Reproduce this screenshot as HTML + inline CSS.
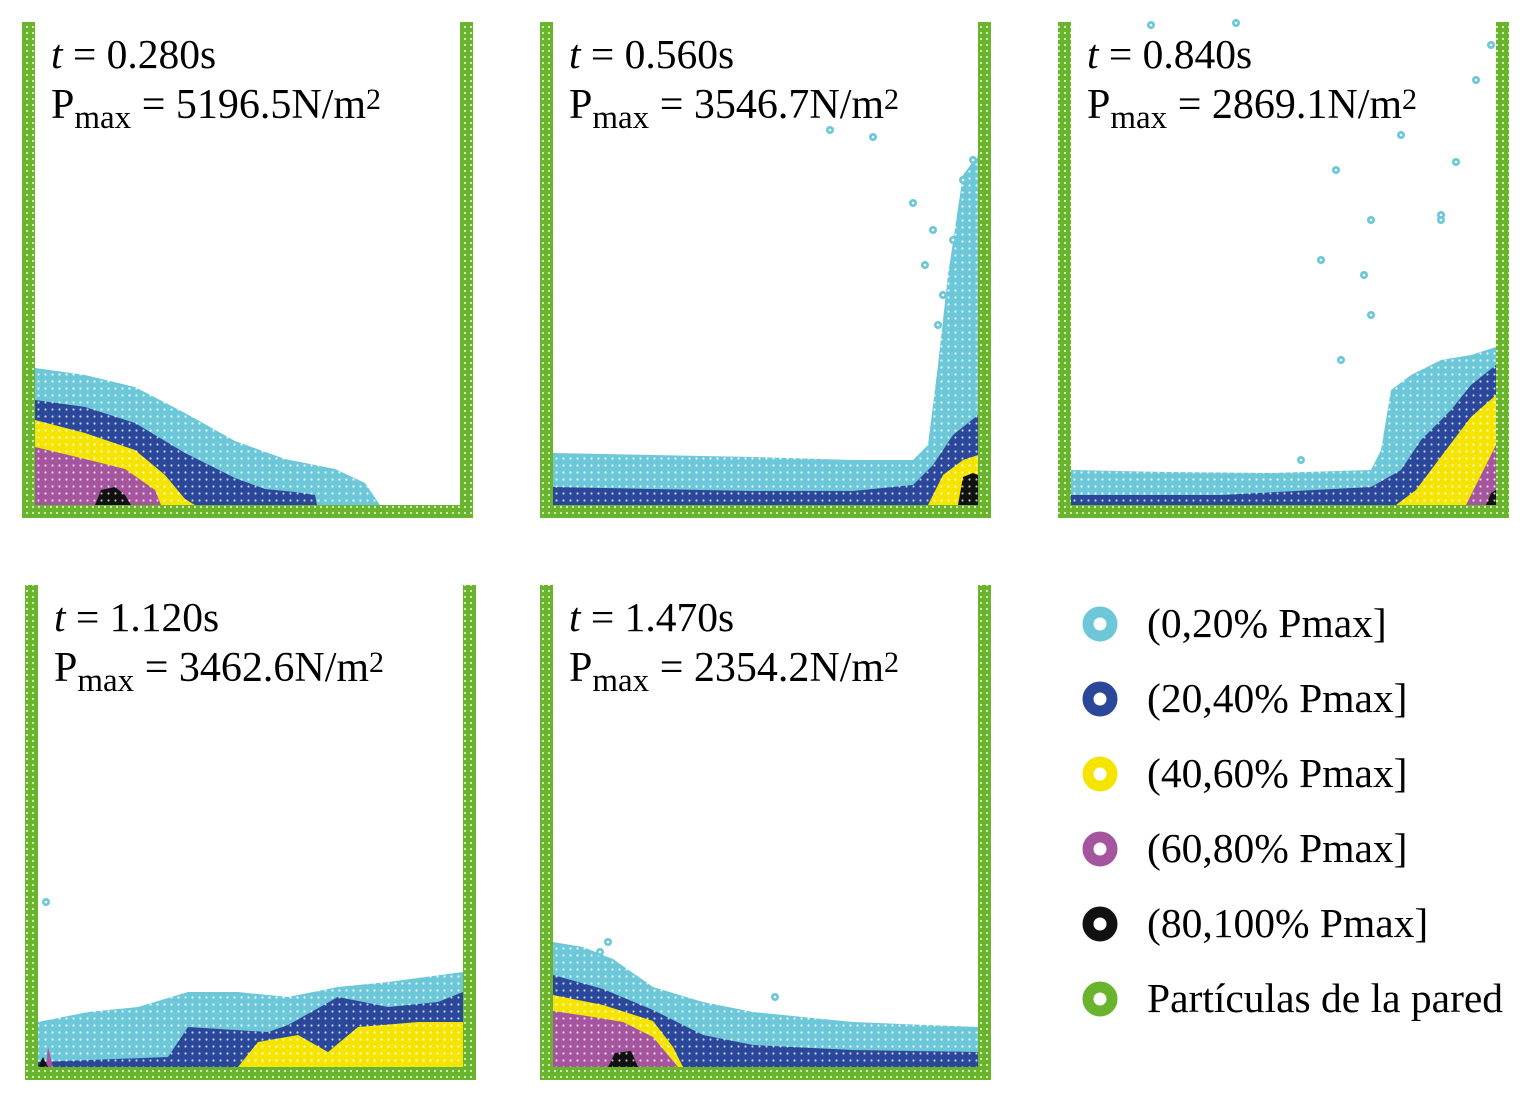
<!DOCTYPE html>
<html><head><meta charset="utf-8"><style>
body{margin:0;background:#fff;}
svg{display:block;font-family:"Liberation Serif",serif;}
</style></head><body>
<svg id="fig" width="1530" height="1101" viewBox="0 0 1530 1101">
<defs>
<pattern id="pw" width="6" height="6" patternUnits="userSpaceOnUse"><rect width="6" height="6" fill="#6ab42d"/><circle cx="3" cy="3" r="1.1" fill="#d8efc4"/></pattern>
<pattern id="pc" width="7" height="7" patternUnits="userSpaceOnUse"><rect width="7" height="7" fill="#6cc8d8"/><circle cx="3.5" cy="3.5" r="1.1" fill="#eefafd"/></pattern>
<pattern id="pb" width="7" height="7" patternUnits="userSpaceOnUse"><rect width="7" height="7" fill="#2b479a"/><circle cx="3.5" cy="3.5" r="1.1" fill="#c8d0ee"/></pattern>
<pattern id="py" width="7" height="7" patternUnits="userSpaceOnUse"><rect width="7" height="7" fill="#f5e400"/><circle cx="3.5" cy="3.5" r="1.1" fill="#fffbd0"/></pattern>
<pattern id="pm" width="7" height="7" patternUnits="userSpaceOnUse"><rect width="7" height="7" fill="#a4559e"/><circle cx="3.5" cy="3.5" r="1.1" fill="#f0d8ee"/></pattern>
<pattern id="pk" width="7" height="7" patternUnits="userSpaceOnUse"><rect width="7" height="7" fill="#111"/><circle cx="3.5" cy="3.5" r="1.1" fill="#bbb"/></pattern>
</defs>
<g id="panels"></g>
<g id="legend"></g>
</svg>
<script>
const NS="http://www.w3.org/2000/svg";
// panel frames: inner left x, floor y, label texts
const panelX=[35,553,1071,38,553];
const panelFloor=[505,505,505,1067,1067];
const panelTimes=["0.280s","0.560s","0.840s","1.120s","1.470s"];
const panelPmax=["5196.5N/m","3546.7N/m","2869.1N/m","3462.6N/m","2354.2N/m"];
// layer profiles: [x from inner left, height above floor]
const cyanLayer=[
 [[0,137],[50,130],[100,118],[150,92],[200,64],[250,46],[300,36],[330,22],[345,0]],
 [[0,52],[100,50],[200,48],[300,45],[360,45],[375,60],[385,140],[395,230],[410,330],[427,350]],
 [[0,35],[100,33],[200,32],[300,35],[310,55],[320,115],[340,130],[370,145],[400,150],[427,158]],
 [[0,45],[50,55],[100,60],[150,75],[200,75],[250,70],[300,80],[350,85],[427,95]],
 [[0,125],[30,120],[60,108],[100,80],[150,65],[200,55],[300,45],[427,40]]];
const blueLayer=[
 [[0,105],[50,98],[100,82],[150,52],[200,27],[230,16],[260,13],[280,10],[282,0]],
 [[0,18],[100,16],[200,14],[300,14],[360,20],[380,40],[400,70],[427,90]],
 [[0,10],[150,10],[300,18],[330,35],[350,65],[380,95],[400,120],[427,140]],
 [[0,5],[130,10],[150,40],[230,35],[250,42],[300,70],[350,60],[400,65],[427,75]],
 [[0,92],[50,78],[100,57],[150,32],[200,22],[300,17],[427,15]]];
const yellowLayer=[
 [[0,85],[50,72],[100,55],[130,30],[150,6],[160,0]],
 [[0,0],[375,0],[390,30],[410,45],[427,50]],
 [[0,0],[325,0],[345,15],[375,55],[400,88],[427,110]],
 [[0,0],[200,0],[220,25],[260,32],[290,15],[320,40],[380,45],[427,45]],
 [[0,72],[50,62],[100,46],[120,20],[130,0]]];
const magentaLayer=[
 [[0,58],[50,46],[90,36],[120,15],[126,0]],
 [[0,0],[427,0]],
 [[0,0],[395,0],[410,30],[427,60]],
 [[0,0],[8,0],[10,20],[15,0]],
 [[0,56],[40,50],[70,45],[100,30],[125,0]]];
const blackLayer=[
 [[60,0],[66,15],[80,18],[90,10],[96,0]],
 [[405,0],[410,28],[420,32],[427,30]],
 [[415,0],[420,12],[427,15]],
 [[0,0],[5,10],[10,0]],
 [[55,0],[62,14],[78,16],[85,0]]];
// stray droplets: [x from inner left, height above floor]
const drops=[
 [],
 [[277,375],[320,368],[360,302],[380,275],[400,265],[372,240],[390,210],[410,325],[385,180],[420,345]],
 [[80,480],[165,482],[265,335],[250,245],[300,285],[293,230],[300,190],[370,290],[385,343],[330,370],[270,145],[230,45],[405,425],[420,460],[370,285]],
 [[8,165]],
 [[47,115],[55,125],[222,70]]];
const layerSets=[[cyanLayer,"url(#pc)","cyan"],[blueLayer,"url(#pb)","blue"],[yellowLayer,"url(#py)","yellow"],[magentaLayer,"url(#pm)","magenta"],[blackLayer,"url(#pk)","black"]];
const root=document.getElementById('panels');
function mk(tag,attrs,parent){const e=document.createElementNS(NS,tag);for(const k in attrs)e.setAttribute(k,attrs[k]);parent.appendChild(e);return e;}
for(let p=0;p<5;p++){
 const x0=panelX[p],fy=panelFloor[p],W=425,H=fy-(p<3?22:585);
 const g=mk('g',{},root);
 
 
 for(const [L,fill,nm] of layerSets){
  const pts=L[p];
  let d=`M${x0+pts[0][0]},${fy} `;
  for(const [x,h] of pts)d+=`L${x0+Math.min(x,W)},${fy-h} `;
  d+=`L${x0+Math.min(pts[pts.length-1][0],W)},${fy} Z`;
  const e=mk('path',{d:d,fill:fill},g);
  
  
 }
 for(const [x,h] of drops[p]){
  const c=mk('circle',{cx:x0+x,cy:fy-h,r:4,fill:'#6cc8d8',stroke:'none'},g);
  mk('circle',{cx:x0+x,cy:fy-h,r:1.3,fill:'#fff'},g);
  
  
 }
 // walls
 const top=fy-H;
 const wl=mk('rect',{x:x0-13,y:top,width:13,height:H+13,fill:'url(#pw)'},g);
 
 
 const wr=mk('rect',{x:x0+W,y:top,width:13,height:H+13,fill:'url(#pw)'},g);
 
 
 const wf=mk('rect',{x:x0-13,y:fy,width:W+26,height:13,fill:'url(#pw)'},g);
 
 
 // labels
 const tx=x0+16, ty=top+46;
 const t1=mk('text',{x:tx,y:ty,'font-size':41.5,fill:'#000'},g);
 
 
 t1.innerHTML=`<tspan font-style="italic">t</tspan> = ${panelTimes[p]}`;
 const t2=mk('text',{x:tx,y:ty+50,'font-size':42,fill:'#000'},g);
 
 
 t2.innerHTML=`P<tspan font-size="33" dy="10">max</tspan><tspan dy="-10"> = ${panelPmax[p]}</tspan><tspan font-size="30" dy="-9">2</tspan>`;
}
// legend
const legendLabels=["(0,20% Pmax]","(20,40% Pmax]","(40,60% Pmax]","(60,80% Pmax]","(80,100% Pmax]","Partículas de la pared"];
const legendColors=["#6cc8d8","#2b479a","#f5e400","#a4559e","#111111","#6ab42d"];
const lg=document.getElementById('legend');
legendLabels.forEach((lab,i)=>{
 const cy=624+i*75;
 const g=mk('g',{},lg);
 
 
 mk('circle',{cx:1100,cy:cy,r:12,fill:'none',stroke:legendColors[i],'stroke-width':11},g);
 const t=mk('text',{x:1147,y:cy+13,'font-size':41.5,fill:'#000'},g);
 t.textContent=lab;
});
</script>
</body></html>
